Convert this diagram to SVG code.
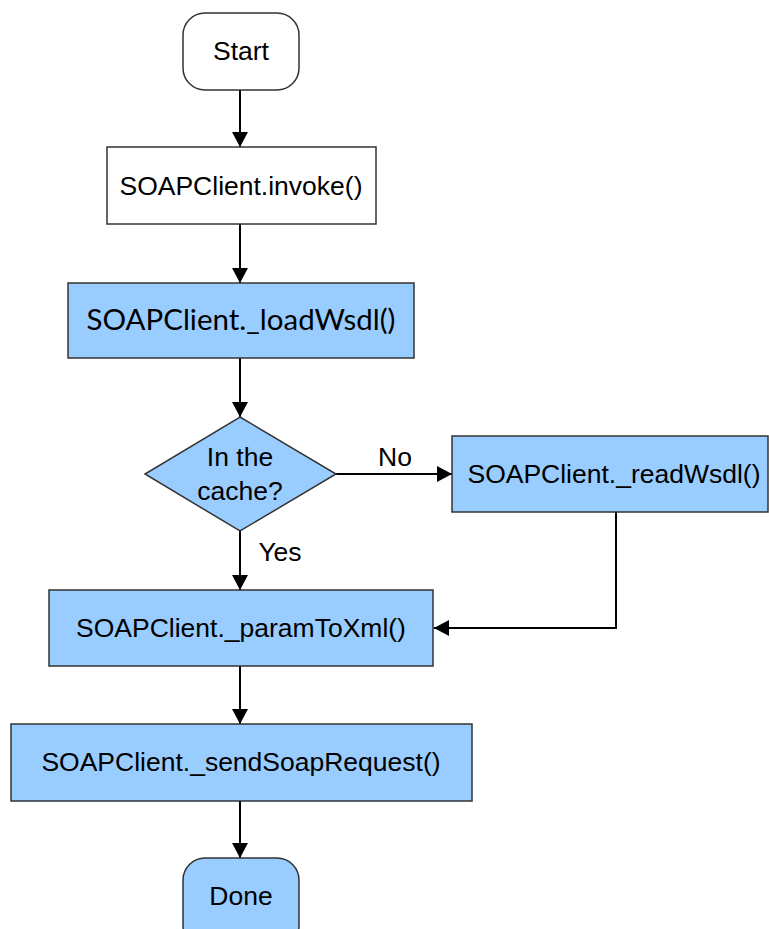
<svg xmlns="http://www.w3.org/2000/svg" width="769" height="929" viewBox="0 0 769 929">
  <style>
    .box { fill: #99ccff; stroke: #333333; stroke-width: 1.5; }
    .plain { fill: #ffffff; stroke: #333333; stroke-width: 1.5; }
    .label { font-family: "Liberation Sans", Arial, sans-serif; font-size: 26.5px; fill: #000000; text-anchor: middle; }
    .calibri { font-family: Lato, "Open Sans", sans-serif; font-size: 28px; fill: #000000; text-anchor: middle; }
    .edge { fill: none; stroke: #000000; stroke-width: 2; marker-end: url(#arrow); }
    .line { fill: none; stroke: #000000; stroke-width: 2; }
  </style>
  <defs>
    <marker id="arrow" markerUnits="userSpaceOnUse" markerWidth="16" markerHeight="16" refX="15" refY="8" orient="auto">
      <path d="M0,0 L15,8 L0,16 Z" fill="#000000"/>
    </marker>
  </defs>
  <rect width="769" height="929" fill="#ffffff"/>

  <g id="connectors">
    <path class="edge" d="M240,90 L240,147"/>
    <path class="edge" d="M240,224 L240,283"/>
    <path class="edge" d="M240,358 L240,417"/>
    <path class="edge" d="M336,474 L452,474"/>
    <path class="edge" d="M240,531 L240,590"/>
    <path class="line" d="M616,512 L616,628 L445,628"/>
    <path class="edge" d="M616,628 L434,628"/>
    <path class="edge" d="M240,666 L240,724"/>
    <path class="edge" d="M240,801 L240,858"/>
    <text class="label" x="395" y="466">No</text>
    <text class="label" x="280" y="561">Yes</text>
  </g>

  <g id="start">
    <rect class="plain" x="183" y="13" width="116" height="77" rx="22"/>
    <text class="label" x="241" y="60">Start</text>
  </g>

  <g id="invoke">
    <rect class="plain" x="107" y="147" width="269" height="77"/>
    <text class="label" x="241" y="195">SOAPClient.invoke()</text>
  </g>

  <g id="loadWsdl">
    <rect class="box" x="68" y="283" width="346" height="75"/>
    <text class="calibri" x="241" y="330" textLength="309" lengthAdjust="spacingAndGlyphs">SOAPClient._loadWsdl()</text>
  </g>

  <g id="inCache">
    <polygon class="box" points="240,417 336,474 240,531 145,474"/>
    <text class="label" x="240" y="466">In the</text>
    <text class="label" x="240" y="500">cache?</text>
  </g>

  <g id="readWsdl">
    <rect class="box" x="452" y="436" width="316" height="76"/>
    <text class="label" x="614" y="483">SOAPClient._readWsdl()</text>
  </g>

  <g id="paramToXml">
    <rect class="box" x="49" y="590" width="384" height="76"/>
    <text class="label" x="241" y="637">SOAPClient._paramToXml()</text>
  </g>

  <g id="sendSoapRequest">
    <rect class="box" x="11" y="724" width="461" height="77"/>
    <text class="label" x="241" y="771">SOAPClient._sendSoapRequest()</text>
  </g>

  <g id="done">
    <rect class="box" x="183" y="858" width="116" height="90" rx="22"/>
    <text class="label" x="241" y="905">Done</text>
  </g>
</svg>
